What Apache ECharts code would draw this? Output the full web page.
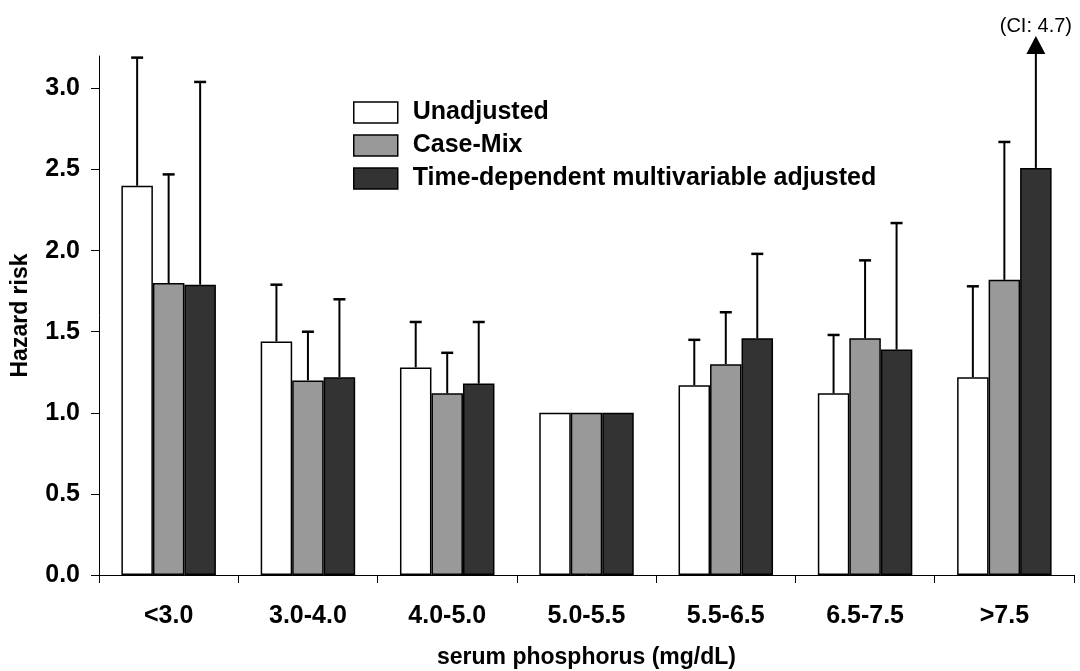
<!DOCTYPE html>
<html>
<head>
<meta charset="utf-8">
<script src="https://cdn.jsdelivr.net/npm/echarts@6/dist/echarts.min.js"></script>
<style>
html,body{margin:0;padding:0;background:#fff;}
#chart{width:1080px;height:671px;}
</style>
</head>
<body>
<div id="chart"></div>
<script>
var categories = ['<3.0', '3.0-4.0', '4.0-5.0', '5.0-5.5', '5.5-6.5', '6.5-7.5', '>7.5'];
var seriesNames = ['Unadjusted', 'Case-Mix', 'Time-dependent multivariable adjusted'];
var unadjusted   = [2.40, 1.44, 1.28, 1.00, 1.17, 1.12, 1.22];
var unadjustedCI = [3.19, 1.79, 1.56, null, 1.45, 1.48, 1.78];
var caseMix      = [1.80, 1.20, 1.12, 1.00, 1.30, 1.46, 1.82];
var caseMixCI    = [2.47, 1.50, 1.37, null, 1.62, 1.94, 2.67];
var timeDep      = [1.79, 1.22, 1.18, 1.00, 1.46, 1.39, 2.51];
var timeDepCI    = [3.04, 1.70, 1.56, null, 1.98, 2.17, 4.7];
var yTicks = [0, 0.5, 1.0, 1.5, 2.0, 2.5, 3.0];
var yMax = 3.2;

var FONT = '"Liberation Sans", Arial, sans-serif';
var colors = ['#ffffff', '#999999', '#333333'];
var BAR_W = 31.5;

var values = [unadjusted, caseMix, timeDep];
var cis = [unadjustedCI, caseMixCI, timeDepCI];

var errData = [];
for (var s = 0; s < 3; s++) {
  for (var i = 0; i < categories.length; i++) {
    if (cis[s][i] != null) errData.push([i, s, values[s][i], cis[s][i]]);
  }
}

var barSeries = seriesNames.map(function (name, s) {
  return {
    name: name,
    type: 'bar',
    data: values[s],
    barWidth: BAR_W,
    barGap: '0%',
    itemStyle: { color: colors[s], borderColor: '#000', borderWidth: 1.5 },
    emphasis: { disabled: true },
    z: 3
  };
});

var errSeries = {
  type: 'custom',
  data: errData,
  encode: { x: 0, y: 2 },
  clip: false,
  silent: true,
  z: 2,
  renderItem: function (params, api) {
    var ci = api.value(0), s = api.value(1), v = api.value(2), up = api.value(3);
    var off = (s - 1) * BAR_W;
    var p0 = api.coord([ci, v]);
    var x = p0[0] + off;
    var style = { stroke: '#000', lineWidth: 2, fill: null };
    if (up > yMax) {
      var pTop = api.coord([ci, yMax]);
      var tipY = pTop[1] - 20;
      var baseY = tipY + 18;
      return {
        type: 'group',
        children: [
          { type: 'line', shape: { x1: x, y1: p0[1], x2: x, y2: baseY }, style: style },
          { type: 'polygon', shape: { points: [[x, tipY], [x - 9.5, baseY], [x + 9.5, baseY]] }, style: { fill: '#000' } },
          { type: 'text', style: { text: '(CI: ' + up + ')', x: x, y: tipY, align: 'center', verticalAlign: 'bottom', font: '20px ' + FONT, fill: '#000' } }
        ]
      };
    }
    var p1 = api.coord([ci, up]);
    return {
      type: 'group',
      children: [
        { type: 'line', shape: { x1: x, y1: p0[1], x2: x, y2: p1[1] }, style: style },
        { type: 'line', shape: { x1: x - 6, y1: p1[1], x2: x + 6, y2: p1[1] }, style: { stroke: '#000', lineWidth: 2.5, fill: null } }
      ]
    };
  }
};

var chart = echarts.init(document.getElementById('chart'), null, { renderer: 'canvas' });
chart.setOption({
  animation: false,
  backgroundColor: '#fff',
  grid: { left: 99, right: 6, top: 56, bottom: 96, containLabel: false, outerBoundsMode: 'none' },
  legend: {
    orient: 'vertical',
    left: 348,
    top: 95,
    padding: 5,
    itemWidth: 44,
    itemHeight: 21,
    itemGap: 8,
    selectedMode: false,
    icon: 'rect',
    data: seriesNames.map(function (n, s) {
      return { name: n, itemStyle: { color: colors[s], borderColor: '#000', borderWidth: 1.5 } };
    }),
    textStyle: { fontFamily: FONT, fontWeight: 'bold', fontSize: 25, color: '#000', padding: [0, 0, 0, 10] }
  },
  xAxis: {
    type: 'category',
    data: categories,
    boundaryGap: true,
    name: 'serum phosphorus (mg/dL)',
    nameLocation: 'middle',
    nameGap: 71,
    nameTextStyle: { fontFamily: FONT, fontWeight: 'bold', fontSize: 23, color: '#000' },
    axisLine: { lineStyle: { color: '#000', width: 1 } },
    axisTick: { show: true, alignWithLabel: false, length: 8, lineStyle: { color: '#000' } },
    axisLabel: { fontFamily: FONT, fontWeight: 'bold', fontSize: 25, color: '#000', margin: 29 },
    splitLine: { show: false }
  },
  yAxis: {
    type: 'value',
    min: 0,
    max: yMax,
    interval: 0.5,
    name: 'Hazard risk',
    nameLocation: 'middle',
    nameGap: 67,
    nameTextStyle: { fontFamily: FONT, fontWeight: 'bold', fontSize: 23, color: '#000' },
    axisLine: { show: true, lineStyle: { color: '#000', width: 1 } },
    axisTick: { show: true, length: 8, customValues: yTicks, lineStyle: { color: '#000' } },
    axisLabel: {
      customValues: yTicks,
      fontFamily: FONT, fontWeight: 'bold', fontSize: 25, color: '#000', margin: 19,
      formatter: function (v) { return v.toFixed(1); }
    },
    splitLine: { show: false }
  },
  series: barSeries.concat([errSeries])
});
</script>
</body>
</html>
